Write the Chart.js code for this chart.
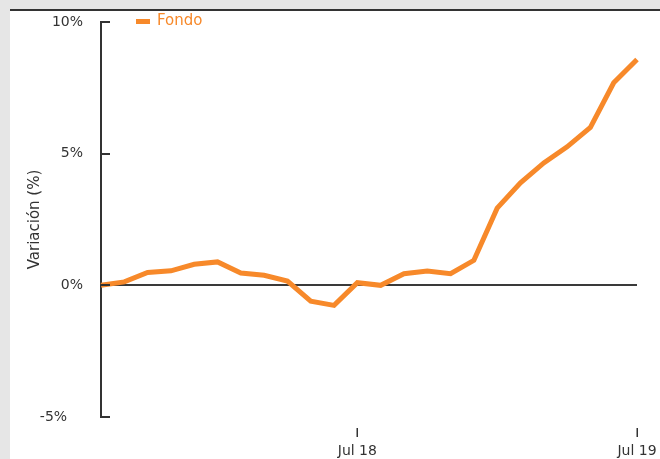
<!DOCTYPE html>
<html>
<head>
<meta charset="utf-8">
<script src="https://cdn.jsdelivr.net/npm/chart.js@4"></script>
<style>
  html, body { margin: 0; padding: 0; background: #e6e6e6; width: 660px; height: 459px; overflow: hidden; }
  #panel { position: absolute; left: 10px; top: 9px; width: 660px; height: 460px; background: #ffffff; border-top: 2px solid #333333; }
  #wrap { position: absolute; left: 0; top: 0; width: 660px; height: 459px; }
</style>
</head>
<body>
<div id="panel"></div>
<div id="wrap"><canvas id="c" width="660" height="459"></canvas></div>
<script>
const categories = ['Ago 17','Sep 17','Oct 17','Nov 17','Dic 17','Ene 18','Feb 18','Mar 18','Abr 18','May 18','Jun 18','Jul 18',
                    'Ago 18','Sep 18','Oct 18','Nov 18','Dic 18','Ene 19','Feb 19','Mar 19','Abr 19','May 19','Jun 19','Jul 19'];
const shownLabels = ['Jul 18', 'Jul 19'];
const fondo = [0.0, 0.13, 0.49, 0.55, 0.8, 0.89, 0.47, 0.38, 0.16, -0.6, -0.76, 0.1,
               0.0, 0.44, 0.54, 0.44, 0.95, 2.93, 3.89, 4.65, 5.26, 6.0, 7.69, 8.58];
const yTicks = [-5, 0, 5, 10];

const ORANGE = '#f7892a';
const DARK = '#333333';

const decor = {
  id: 'decor',
  afterDraw(chart) {
    const ctx = chart.ctx;
    const ys = chart.scales.y, xs = chart.scales.x, ca = chart.chartArea;
    ctx.save();
    ctx.strokeStyle = DARK;
    ctx.lineWidth = 2;
    yTicks.forEach(v => {
      const py = Math.round(ys.getPixelForValue(v));
      ctx.beginPath();
      ctx.moveTo(ca.left, py);
      ctx.lineTo(ca.left + 9, py);
      ctx.stroke();
    });
    ctx.lineWidth = 1.5;
    categories.forEach((c, i) => {
      if (shownLabels.includes(c)) {
        const px = Math.round(xs.getPixelForValue(i)) + 0.25;
        ctx.beginPath();
        ctx.moveTo(px, ca.bottom + 11);
        ctx.lineTo(px, ca.bottom + 20);
        ctx.stroke();
      }
    });
    // legend
    const ds = chart.data.datasets[0];
    ctx.fillStyle = ds.borderColor;
    ctx.fillRect(136, 19, 14, 5);
    ctx.font = '15px "DejaVu Sans"';
    ctx.textBaseline = 'middle';
    ctx.textAlign = 'left';
    ctx.fillText(ds.label, 157, 21);
    ctx.restore();
  }
};

new Chart(document.getElementById('c'), {
  type: 'line',
  data: {
    labels: categories,
    datasets: [{
      label: 'Fondo',
      data: fondo,
      borderColor: ORANGE,
      backgroundColor: ORANGE,
      borderWidth: 5,
      pointRadius: 0,
      tension: 0,
      fill: false,
      borderJoinStyle: 'miter'
    }]
  },
  options: {
    responsive: false,
    animation: false,
    layout: { padding: { left: 0, right: 23, top: 22, bottom: 0 } },
    plugins: { legend: { display: false }, tooltip: { enabled: false } },
    scales: {
      x: {
        type: 'category',
        offset: false,
        border: { display: false },
        grid: { display: false },
        afterFit(s) { s.height = 42; s.paddingLeft = 0; s.paddingRight = 0; },
        ticks: {
          autoSkip: false,
          maxRotation: 0,
          padding: 18,
          color: DARK,
          font: { family: 'DejaVu Sans', size: 14 },
          callback(v, i) { const l = categories[i]; return shownLabels.includes(l) ? l : null; }
        }
      },
      y: {
        min: -5, max: 10,
        afterFit(s) { s.width = 101; s.paddingTop = 0; s.paddingBottom = 0; },
        afterBuildTicks(s) { s.ticks = yTicks.map(v => ({ value: v })); },
        border: { display: true, color: DARK, width: 2 },
        grid: {
          drawTicks: false,
          lineWidth: 2,
          color(c) { return c.tick && c.tick.value === 0 ? '#3a3a3a' : 'rgba(0,0,0,0)'; }
        },
        title: {
          display: true, text: 'Variación (%)', color: DARK,
          font: { family: 'DejaVu Sans', size: 15 }, padding: { top: 26, bottom: 0 }
        },
        ticks: {
          padding: 18,
          color: DARK,
          font: { family: 'DejaVu Sans', size: 14 },
          callback(v) { return v + '%' + (v < 0 ? '\u2002  ' : ''); }
        }
      }
    }
  },
  plugins: [decor]
});
</script>
</body>
</html>
